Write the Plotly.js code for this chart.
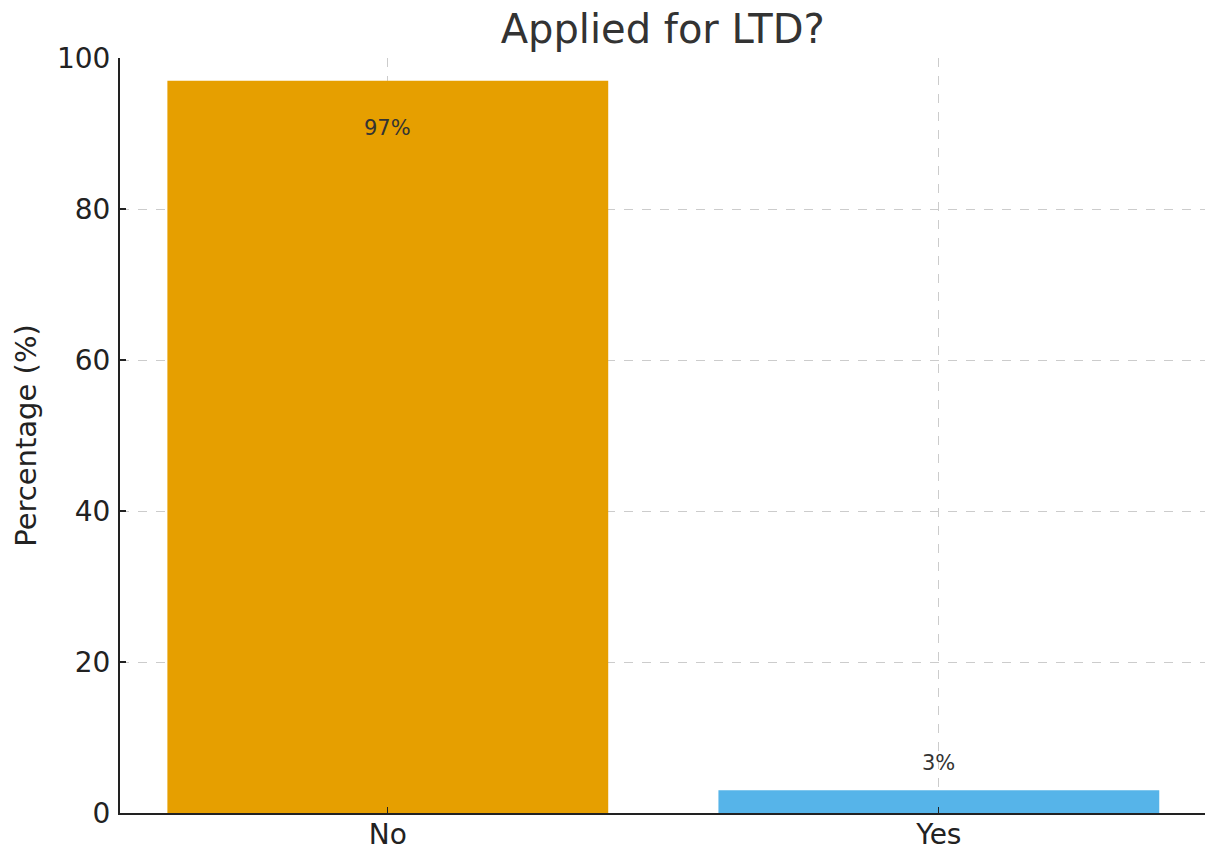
<!DOCTYPE html>
<html>
<head>
<meta charset="utf-8">
<script src="https://cdn.plot.ly/plotly-3.0.1.min.js"></script>
<style>
  html, body { margin: 0; padding: 0; background: #fff; }
  #chart { width: 1205px; height: 850px; }
</style>
</head>
<body>
<div id="chart"></div>
<script>
// Survey answers: share of respondents who applied for long-term disability
const categories = ['No', 'Yes'];
const percentages = [97, 3];
const barColors = ['#E69F00', '#56B4E9'];
const valueLabels = ['97%', '3%'];

const font = 'DejaVu Sans, sans-serif';

// Value labels: inside the top of tall bars, just above short ones
const annotations = categories.map((c, i) => {
  const v = percentages[i];
  return {
    x: c,
    y: v > 50 ? v - 5 : v + 5,
    xref: 'x', yref: 'y',
    text: valueLabels[i],
    showarrow: false,
    yanchor: 'top',
    yshift: 4,
    font: { family: font, size: 21, color: '#333333' }
  };
});

const trace = {
  type: 'bar',
  x: categories,
  y: percentages,
  width: 0.8,
  marker: { color: barColors, line: { width: 0 } },
  hoverinfo: 'skip'
};

const tickFont = { family: font, size: 28, color: '#222222' };

const layout = {
  width: 1205,
  height: 850,
  margin: { l: 120, r: 0, t: 58, b: 37, pad: 0 },
  paper_bgcolor: '#ffffff',
  plot_bgcolor: '#ffffff',
  showlegend: false,
  title: {
    text: 'Applied for LTD?',
    font: { family: font, size: 40, color: '#333333' },
    x: 0.55, xanchor: 'center',
    y: 0.966, yanchor: 'middle'
  },
  xaxis: {
    type: 'category',
    range: [-0.486, 1.483],
    showgrid: true,
    gridcolor: '#cccccc',
    griddash: 'dash',
    gridwidth: 1,
    showline: true,
    linecolor: '#222222',
    linewidth: 2,
    ticks: 'inside',
    ticklen: 6,
    tickwidth: 1.2,
    tickcolor: '#222222',
    tickfont: tickFont,
    ticklabelstandoff: -5,
    layer: 'above traces',
    zeroline: false,
    fixedrange: true
  },
  yaxis: {
    range: [0, 100],
    tickvals: [0, 20, 40, 60, 80, 100],
    showgrid: true,
    gridcolor: '#cccccc',
    griddash: 'dash',
    gridwidth: 1,
    showline: true,
    linecolor: '#222222',
    linewidth: 2,
    ticks: 'inside',
    ticklen: 6,
    tickwidth: 1.2,
    tickcolor: '#222222',
    tickfont: tickFont,
    ticklabelstandoff: 2,
    title: {
      text: 'Percentage (%)',
      font: { family: font, size: 29, color: '#222222' },
      standoff: 12
    },
    layer: 'above traces',
    zeroline: false,
    fixedrange: true
  },
  annotations: annotations
};

Plotly.newPlot('chart', [trace], layout, { displayModeBar: false, staticPlot: true });
</script>
</body>
</html>
